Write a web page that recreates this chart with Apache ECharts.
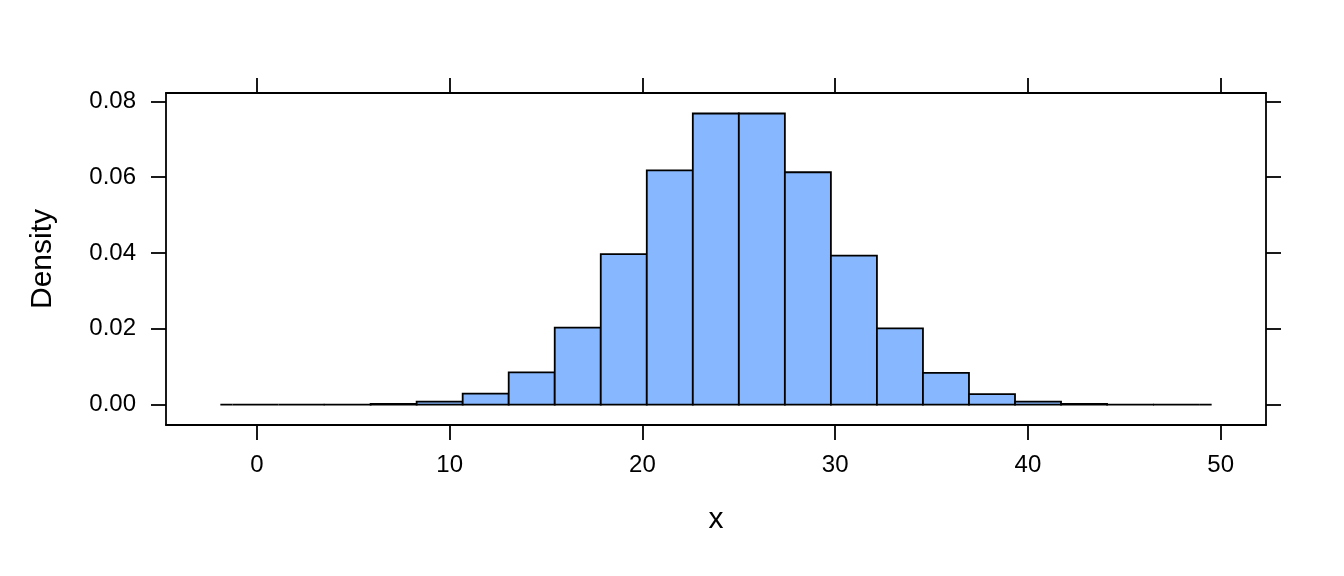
<!DOCTYPE html>
<html>
<head>
<meta charset="utf-8">
<script src="https://cdn.jsdelivr.net/npm/echarts@6/dist/echarts.min.js"></script>
<style>
html,body{margin:0;padding:0;background:#fff;}
#chart{width:1344px;height:576px;}
</style>
</head>
<body>
<div id="chart"></div>
<script>
// Histogram bin edges (x) and densities
const binEdges = [-1.9, -1.268, 1.12, 3.508, 5.896, 8.284, 10.672, 13.06, 15.448, 17.836, 20.224, 22.612, 25.0, 27.388, 29.776, 32.164, 34.552, 36.94, 39.328, 41.716, 44.104, 46.492, 48.88, 49.53];
const densities = [0, 0, 0, 0.00002, 0.0002, 0.0008, 0.0029, 0.0085, 0.0203, 0.0397, 0.0618, 0.0768, 0.0768, 0.0613, 0.0393, 0.0201, 0.0084, 0.0028, 0.0008, 0.0002, 0.00002, 0, 0];
const xTicks = [0, 10, 20, 30, 40, 50];
const yTicks = [0, 0.02, 0.04, 0.06, 0.08];
const xRange = [-4.72, 52.35];
const yRange = [-0.00536, 0.0822];

const barData = densities.map((d, i) => [binEdges[i], binEdges[i + 1], d]);

const FONT = '"Liberation Sans", Arial, Helvetica, sans-serif';
const chart = echarts.init(document.getElementById('chart'), null, {renderer: 'canvas'});

const lineStyle = {color: '#000', width: 1.8};
function xAx(pos, showLabel) {
  return {
    type: 'value', position: pos, min: xRange[0], max: xRange[1],
    axisLine: {show: true, onZero: false, lineStyle: lineStyle},
    axisTick: {show: true, inside: false, length: 15, lineStyle: lineStyle, customValues: xTicks},
    axisLabel: {show: showLabel, customValues: xTicks, margin: 28, color: '#000', fontSize: 24, fontFamily: FONT},
    splitLine: {show: false},
    name: showLabel ? 'x' : '', nameLocation: 'middle', nameGap: 80,
    nameTextStyle: {color: '#000', fontSize: 30, fontFamily: FONT}
  };
}
function yAx(pos, showLabel) {
  return {
    type: 'value', position: pos, min: yRange[0], max: yRange[1],
    axisLine: {show: true, onZero: false, lineStyle: lineStyle},
    axisTick: {show: true, inside: false, length: 15, lineStyle: lineStyle, customValues: yTicks},
    axisLabel: {show: showLabel, customValues: yTicks, margin: 30, color: '#000', fontSize: 24, fontFamily: FONT,
      formatter: v => v.toFixed(2)},
    splitLine: {show: false},
    name: showLabel ? 'Density' : '', nameLocation: 'middle', nameGap: 108, nameRotate: 90,
    nameTextStyle: {color: '#000', fontSize: 30, fontFamily: FONT}
  };
}

chart.setOption({
  backgroundColor: '#fff',
  animation: false,
  grid: {left: 166, top: 93, width: 1100, height: 332, containLabel: false},
  xAxis: [xAx('bottom', true), xAx('top', false)],
  yAxis: [yAx('left', true), yAx('right', false)],
  series: [{
    type: 'custom',
    xAxisIndex: 0, yAxisIndex: 0,
    data: barData,
    encode: {x: [0, 1], y: 2},
    renderItem: function (params, api) {
      const p0 = api.coord([api.value(0), api.value(2)]);
      const p1 = api.coord([api.value(1), 0]);
      return {
        type: 'rect',
        shape: {x: p0[0], y: p0[1], width: p1[0] - p0[0], height: p1[1] - p0[1]},
        style: {fill: '#87B8FF', stroke: '#000', lineWidth: 1.8}
      };
    }
  }]
});
</script>
</body>
</html>
